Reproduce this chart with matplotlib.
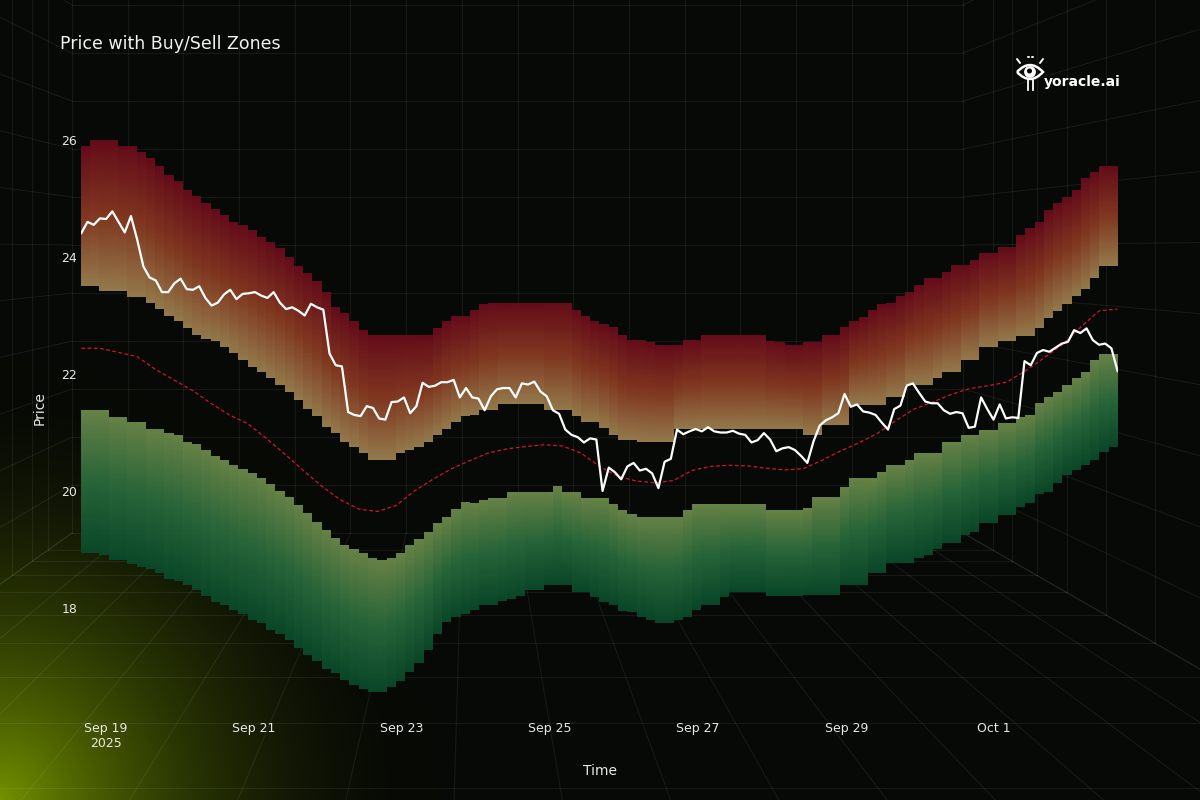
import numpy as np
import pandas as pd
import matplotlib
matplotlib.use("Agg")
import matplotlib.pyplot as plt
import matplotlib.dates as mdates
from matplotlib.colors import to_rgb
from matplotlib.path import Path
from matplotlib.patches import PathPatch, Circle

# zone columns, 3 hours each, from Sep 18 16:00 to Oct 2 16:00
sell_top = [
    25.9, 26.0, 26.0, 26.0, 25.9, 25.9, 25.8, 25.7,
    25.55, 25.4, 25.3, 25.15, 25.05, 24.93, 24.82, 24.72,
    24.6, 24.55, 24.47, 24.35, 24.25, 24.15, 24.0, 23.85,
    23.73, 23.6, 23.4, 23.15, 23.05, 22.9, 22.75, 22.67,
    22.67, 22.67, 22.67, 22.67, 22.67, 22.67, 22.78, 22.9,
    23.0, 23.0, 23.1, 23.2, 23.22, 23.22, 23.22, 23.22,
    23.22, 23.22, 23.22, 23.22, 23.22, 23.1, 23.0, 22.9,
    22.85, 22.8, 22.67, 22.58, 22.58, 22.55, 22.5, 22.5,
    22.5, 22.58, 22.58, 22.67, 22.67, 22.67, 22.67, 22.67,
    22.67, 22.67, 22.57, 22.55, 22.5, 22.5, 22.55, 22.55,
    22.67, 22.67, 22.8, 22.9, 22.98, 23.09, 23.2, 23.22,
    23.33, 23.4, 23.52, 23.64, 23.64, 23.74, 23.86, 23.86,
    23.95, 24.07, 24.07, 24.17, 24.17, 24.38, 24.5, 24.6,
    24.8, 24.92, 25.03, 25.15, 25.35, 25.45, 25.56, 25.56,
]
sell_bottom = [
    23.5, 23.5, 23.42, 23.42, 23.42, 23.32, 23.32, 23.21,
    23.11, 23.0, 22.9, 22.79, 22.67, 22.6, 22.56, 22.46,
    22.36, 22.24, 22.12, 22.03, 21.93, 21.81, 21.69, 21.55,
    21.4, 21.28, 21.1, 21.0, 20.84, 20.75, 20.65, 20.53,
    20.53, 20.53, 20.65, 20.7, 20.75, 20.84, 20.96, 21.07,
    21.18, 21.28, 21.3, 21.38, 21.38, 21.49, 21.49, 21.49,
    21.49, 21.49, 21.38, 21.38, 21.38, 21.28, 21.18, 21.18,
    21.08, 20.96, 20.87, 20.87, 20.84, 20.84, 20.84, 20.84,
    21.05, 21.05, 21.05, 21.05, 21.05, 21.05, 21.05, 21.05,
    21.05, 21.05, 21.05, 21.05, 21.05, 21.05, 20.96, 20.96,
    21.13, 21.13, 21.13, 21.47, 21.47, 21.47, 21.47, 21.6,
    21.6, 21.81, 21.81, 21.81, 21.93, 22.03, 22.03, 22.24,
    22.24, 22.46, 22.46, 22.56, 22.56, 22.65, 22.65, 22.79,
    22.95, 23.08, 23.2, 23.33, 23.45, 23.64, 23.85, 23.85,
]
buy_top = [
    21.38, 21.38, 21.38, 21.27, 21.27, 21.18, 21.18, 21.07,
    21.07, 21.0, 20.96, 20.84, 20.8, 20.7, 20.6, 20.53,
    20.45, 20.38, 20.31, 20.22, 20.12, 20.0, 19.9, 19.75,
    19.62, 19.47, 19.33, 19.2, 19.07, 19.0, 18.94, 18.85,
    18.82, 18.85, 18.94, 19.07, 19.18, 19.3, 19.45, 19.55,
    19.7, 19.82, 19.8, 19.85, 19.88, 19.88, 19.98, 19.98,
    19.98, 19.98, 19.98, 20.09, 19.98, 19.98, 19.88, 19.88,
    19.88, 19.78, 19.67, 19.6, 19.56, 19.56, 19.56, 19.56,
    19.56, 19.67, 19.78, 19.78, 19.78, 19.78, 19.78, 19.78,
    19.78, 19.78, 19.67, 19.67, 19.67, 19.67, 19.71, 19.9,
    19.9, 19.9, 20.07, 20.22, 20.22, 20.22, 20.32, 20.44,
    20.44, 20.53, 20.65, 20.65, 20.65, 20.84, 20.84, 20.96,
    20.96, 21.04, 21.04, 21.16, 21.16, 21.26, 21.3, 21.5,
    21.6, 21.7, 21.81, 21.93, 22.03, 22.25, 22.34, 22.34,
]
buy_bottom = [
    18.94, 18.94, 18.9, 18.82, 18.82, 18.75, 18.7, 18.66,
    18.6, 18.5, 18.45, 18.39, 18.3, 18.2, 18.1, 18.05,
    17.97, 17.9, 17.8, 17.74, 17.62, 17.55, 17.45, 17.32,
    17.2, 17.1, 16.95, 16.89, 16.77, 16.68, 16.62, 16.56,
    16.56, 16.65, 16.75, 16.9, 17.06, 17.28, 17.55, 17.75,
    17.85, 17.9, 17.97, 18.05, 18.05, 18.12, 18.15, 18.2,
    18.3, 18.3, 18.39, 18.39, 18.39, 18.27, 18.27, 18.19,
    18.1, 18.05, 17.95, 17.93, 17.85, 17.8, 17.74, 17.74,
    17.8, 17.85, 17.97, 18.05, 18.05, 18.19, 18.27, 18.27,
    18.27, 18.27, 18.21, 18.21, 18.21, 18.21, 18.22, 18.22,
    18.22, 18.22, 18.39, 18.39, 18.39, 18.6, 18.6, 18.77,
    18.77, 18.77, 18.85, 18.9, 19.0, 19.11, 19.11, 19.25,
    19.3, 19.45, 19.45, 19.59, 19.59, 19.73, 19.8, 19.95,
    19.98, 20.14, 20.27, 20.35, 20.45, 20.53, 20.67, 20.75,
]

# dashed middle line, every 6 hours
mid_line = [
    22.44, 22.44, 22.37, 22.3, 22.08, 21.9, 21.72, 21.5,
    21.3, 21.15, 20.9, 20.63, 20.35, 20.08, 19.85, 19.69,
    19.65, 19.75, 20.0, 20.2, 20.38, 20.52, 20.65, 20.72,
    20.76, 20.79, 20.77, 20.65, 20.42, 20.25, 20.17, 20.14,
    20.18, 20.35, 20.42, 20.44, 20.43, 20.39, 20.36, 20.38,
    20.52, 20.68, 20.82, 20.98, 21.2, 21.4, 21.52, 21.65,
    21.75, 21.8, 21.86, 22.05, 22.27, 22.5, 22.8, 23.08,
    23.11,
]

# price, every 2 hours
price = [
    24.41, 24.6, 24.55, 24.66, 24.65, 24.78, 24.6, 24.42,
    24.7, 24.3, 23.84, 23.65, 23.6, 23.4, 23.4, 23.55,
    23.63, 23.45, 23.44, 23.5, 23.3, 23.17, 23.22, 23.36,
    23.44, 23.28, 23.37, 23.38, 23.4, 23.34, 23.3, 23.4,
    23.22, 23.11, 23.14, 23.08, 23.0, 23.2, 23.14, 23.1,
    22.35, 22.15, 22.13, 21.35, 21.3, 21.28, 21.45, 21.42,
    21.24, 21.22, 21.52, 21.53, 21.6, 21.33, 21.45, 21.85,
    21.78, 21.8, 21.86, 21.86, 21.9, 21.6, 21.76, 21.6,
    21.58, 21.38, 21.62, 21.74, 21.76, 21.76, 21.6, 21.84,
    21.82, 21.87, 21.7, 21.62, 21.38, 21.32, 21.05, 20.96,
    20.92, 20.83, 20.9, 20.88, 20.0, 20.4, 20.32, 20.2,
    20.42, 20.48, 20.35, 20.38, 20.3, 20.05, 20.5, 20.55,
    21.05, 20.97, 21.02, 21.06, 21.02, 21.09, 21.02, 21.0,
    21.0, 21.03, 20.98, 20.96, 20.83, 20.87, 20.99, 20.88,
    20.68, 20.73, 20.75, 20.7, 20.6, 20.48, 20.85, 21.12,
    21.21, 21.26, 21.33, 21.66, 21.44, 21.48, 21.36, 21.34,
    21.3, 21.17, 21.05, 21.4, 21.46, 21.8, 21.84, 21.68,
    21.53, 21.5, 21.5, 21.38, 21.32, 21.35, 21.33, 21.08,
    21.1, 21.6, 21.4, 21.22, 21.48, 21.24, 21.26, 21.25,
    22.22, 22.15, 22.36, 22.41, 22.38, 22.45, 22.52, 22.55,
    22.75, 22.7, 22.78, 22.58, 22.5, 22.52, 22.44, 22.05,
]

tick_days = ["2025-09-19", "2025-09-21", "2025-09-23", "2025-09-25",
             "2025-09-27", "2025-09-29", "2025-10-01"]
tick_labels = ["Sep 19\n2025", "Sep 21", "Sep 23", "Sep 25",
               "Sep 27", "Sep 29", "Oct 1"]
y_ticks = [18, 20, 22, 24, 26]

start, end = "2025-09-18 16:00", "2025-10-02 16:00"
col_edges = pd.date_range(start, periods=len(sell_top) + 1, freq="3h")
price_times = pd.date_range(start, end, periods=len(price))
mid_times = pd.date_range(start, end, periods=len(mid_line))

W, H = 1200, 800
BG = np.array([6, 9, 5]) / 255.0
TXT = "#e8e8e8"
Y_LO, Y_HI = 16.171, 26.684

# gradient stops, bottom -> middle -> top of each column
sell_stops = ["#9c8150", "#873a22", "#6a0c1c"]
buy_stops = ["#0a4a2b", "#2a6a3c", "#6d894a"]


def zone_image(bottom, top, stops, ny=1400):
    ys = np.linspace(Y_HI, Y_LO, ny)
    b = np.asarray(bottom)
    t = np.asarray(top)
    frac = (ys[:, None] - b[None, :]) / (t - b)[None, :]
    inside = (frac >= 0) & (frac <= 1)
    frac = np.clip(frac, 0, 1)
    c = [np.array(to_rgb(s)) for s in stops]
    lo = frac[..., None] * 2
    rgb = np.where(frac[..., None] < 0.5,
                   c[0] + lo * (c[1] - c[0]),
                   c[1] + (lo - 1) * (c[2] - c[1]))
    return np.dstack([rgb, inside.astype(float) * 0.95])


fig = plt.figure(figsize=(12, 8), dpi=100)

# background: dark room with perspective grid and a glow in the corner
bg = fig.add_axes([0, 0, 1, 1], zorder=0)
bg.set_xlim(0, W)
bg.set_ylim(H, 0)
bg.axis("off")
xx, yy = np.meshgrid(np.arange(W) + 0.5, np.arange(H) + 0.5)
r = np.hypot(xx, H - yy)
w = np.clip(1 - r / 440, 0, 1) ** 2.0
glow = np.array([115, 145, 0]) / 255.0
img = BG[None, None, :] * (1 - w[..., None]) + glow[None, None, :] * w[..., None]
bg.imshow(img, extent=[0, W, H, 0], aspect="auto", interpolation="bilinear")

vx, vy = 470, 250
x0, x1, y0, y1 = 72, 963, 5, 533
wall_x = np.linspace(x0, x1, 17)
wall_y = np.arange(y0, y1 + 1, 48)
depths = [1.06, 1.1, 1.15, 1.21, 1.29, 1.39, 1.51, 1.67, 1.9, 2.2, 2.6]
kw = dict(color="white", alpha=0.065, lw=0.8, zorder=1)
for x in wall_x:
    bg.plot([x, x], [0, y1], **kw)
for y in wall_y:
    bg.plot([x0, x1], [y, y], **kw)
    s = (W - vx) / (x1 - vx)
    bg.plot([x1, W], [y, vy + (y - vy) * s], **kw)
    s = vx / (vx - x0)
    bg.plot([x0, 0], [y, vy + (y - vy) * s], **kw)
for s in depths:
    xr = vx + (x1 - vx) * s
    xl = vx + (x0 - vx) * s
    yb = vy + (y1 - vy) * s
    bg.plot([xr, xr], [vy + (y0 - vy) * s - 200, yb], **kw)
    bg.plot([xl, xl], [vy + (y0 - vy) * s - 200, yb], **kw)
    bg.plot([xl, xr], [yb, yb], **kw)
for x in wall_x:
    s = 3.0
    bg.plot([x, vx + (x - vx) * s], [y1, vy + (y1 - vy) * s], **kw)

# logo
eye = Path([(1017, 72), (1030, 58), (1043, 72), (1030, 86), (1017, 72)],
           [Path.MOVETO, Path.CURVE3, Path.CURVE3, Path.CURVE3, Path.CURVE3])
bg.add_patch(PathPatch(eye, fill=False, ec="white", lw=1.8, zorder=5))
bg.add_patch(Circle((1030, 72), 5.2, color="white", zorder=5))
bg.add_patch(Circle((1029.5, 71), 1.8, color="#060905", zorder=6))
for (xa, ya, xb, yb) in [(1017, 59, 1020, 63), (1043, 59, 1040, 63),
                         (1028, 57, 1028.6, 57), (1032, 57, 1032.6, 57)]:
    bg.plot([xa, xb], [ya, yb], color="white", lw=1.4, zorder=5,
            solid_capstyle="round")
bg.plot([1027.5, 1027.5], [80, 90], color="white", lw=1.3, zorder=5)
bg.plot([1032.5, 1032.5], [80, 90], color="white", lw=1.3, zorder=5)
bg.text(1044, 82, "yoracle.ai", color="white", fontsize=10, fontweight="bold",
        ha="left", va="center", zorder=5)

# main chart
ax = fig.add_axes([81.3 / W, 1 - 715 / H, (1117.6 - 81.3) / W, 615 / H], zorder=2)
ax.patch.set_alpha(0)
for sp in ax.spines.values():
    sp.set_visible(False)

xe0 = mdates.date2num(col_edges[0])
xe1 = mdates.date2num(col_edges[-1])
for im in (zone_image(sell_bottom, sell_top, sell_stops),
           zone_image(buy_bottom, buy_top, buy_stops)):
    ax.imshow(im, extent=[xe0, xe1, Y_LO, Y_HI], aspect="auto",
              interpolation="nearest", origin="upper", zorder=1)

ax.plot(mid_times, mid_line, color="#d3142e", lw=0.9, ls=(0, (3, 2)), zorder=3)
ax.plot(price_times, price, color="white", lw=1.6, zorder=4)

ax.set_xlim(mdates.date2num(pd.Timestamp(start)), mdates.date2num(pd.Timestamp(end)))
ax.set_ylim(Y_LO, Y_HI)
ax.set_xticks(pd.to_datetime(tick_days))
ax.set_xticklabels(tick_labels)
ax.set_yticks(y_ticks)
ax.set_yticklabels([str(v) for v in y_ticks])
ax.tick_params(length=0, colors=TXT, labelsize=9)
ax.tick_params(axis="x", pad=5)
ax.tick_params(axis="y", pad=3)
ax.grid(False)

fig.text(60 / W, 1 - 44 / H, "Price with Buy/Sell Zones", color="#f2f2f2",
         fontsize=12.5, ha="left", va="center")
fig.text(600 / W, 1 - 771 / H, "Time", color=TXT, fontsize=10,
         ha="center", va="center")
fig.text(40 / W, 1 - 408 / H, "Price", color=TXT, fontsize=10,
         ha="center", va="center", rotation=90)

fig.savefig("out.png", dpi=100, facecolor=BG)
